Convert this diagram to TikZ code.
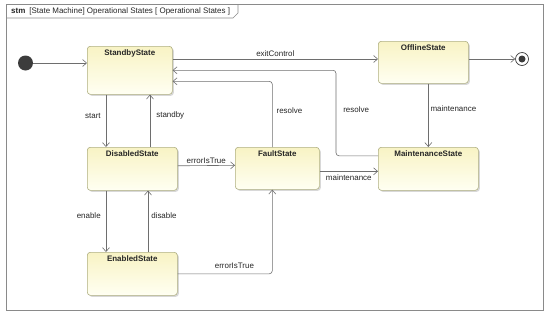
\documentclass[tikz,border=0pt]{standalone}
\usepackage{fontspec}
\setmainfont{Liberation Sans}
\usetikzlibrary{arrows.meta, positioning, calc, shadows}
\definecolor{statetop}{HTML}{F8F3C4}
\definecolor{statebot}{HTML}{FFFFF2}
\definecolor{stateline}{HTML}{AFAF82}
\definecolor{wire}{HTML}{6E6E6E}
\definecolor{framegray}{HTML}{8A8A8A}
\definecolor{dot}{HTML}{3C3C3C}
\newcommand{\smallfont}{\fontsize{8}{9}\selectfont}

\begin{document}
\begin{tikzpicture}[x=1bp, y=-1bp,
  statebox/.style={rectangle, draw=stateline, line width=0.6bp, rounded corners=3bp,
    top color=statetop, bottom color=statebot, anchor=north west,
    drop shadow={shadow xshift=1.5bp, shadow yshift=-1.5bp, fill=black!30, opacity=0.5},
    label={[statename]north:#1}},
  statename/.style={anchor=north, font=\smallfont\bfseries, text=black!85,
    inner sep=2bp, yshift=-1.5bp},
  initstate/.style={circle, fill=dot, minimum size=15bp, inner sep=0pt},
  finalstate/.style={circle, draw=dot, fill=white, line width=0.7bp,
    minimum size=13bp, inner sep=0pt,
    path picture={\fill[dot] (path picture bounding box.center) circle (3.5bp);}},
  trans/.style={draw=wire, line width=0.6bp, rounded corners=3bp,
    -{Straight Barb[length=4bp, width=7bp]}},
  tlabel/.style={font=\smallfont, text=black!85, inner sep=2bp},
]
  \useasboundingbox (0,0) rectangle (550,318);

  % Frame
  \draw[framegray, line width=1bp] (6,4) rectangle (543,310);
  \draw[framegray, line width=0.6bp] (6,18) -- (233,18) -- (238,13) -- (238,4);
  \node[tlabel, anchor=west] (title) at (9,11)
    {\textbf{stm}\enspace[State Machine] Operational States [ Operational States ]};

  % Pseudo states
  \node[initstate] (init) at (25.5,63) {};
  \node[finalstate] (final) at (522,59) {};

  % States
  \node[statebox=StandbyState, minimum width=85bp, minimum height=48bp] (standby) at (87,46) {};
  \node[statebox=DisabledState, minimum width=90bp, minimum height=43bp] (disabled) at (87,147) {};
  \node[statebox=EnabledState, minimum width=90bp, minimum height=43bp] (enabled) at (87,252) {};
  \node[statebox=FaultState, minimum width=84bp, minimum height=42bp] (fault) at (235,147) {};
  \node[statebox=OfflineState, minimum width=90bp, minimum height=42bp] (offline) at (378,41) {};
  \node[statebox=MaintenanceState, minimum width=100bp, minimum height=43bp] (maint) at (378,147) {};

  % Transitions
  \draw[trans] (init) -- (standby.west |- init);
  \draw[trans] (standby.east |- final) -- node[tlabel, above] (lexit) {exitControl} (offline.west |- final);
  \draw[trans] (offline.east |- final) -- (final);

  \draw[trans] ([xshift=19bp]standby.south west) -- node[tlabel, left=3bp, pos=0.4] (lstart) {start}
    ([xshift=19bp]disabled.north west);
  \draw[trans] ([xshift=63bp]disabled.north west) -- node[tlabel, right=4bp, pos=0.6] (lstandby) {standby}
    ([xshift=63bp]standby.south west);

  \draw[trans] ([xshift=19bp]disabled.south west) -- node[tlabel, left=3bp, pos=0.4] (lenable) {enable}
    ([xshift=19bp]enabled.north west);
  \draw[trans] ([xshift=61bp]enabled.north west) -- node[tlabel, right=1bp, pos=0.6] (ldisable) {disable}
    ([xshift=61bp]disabled.south west);

  \draw[trans] ([yshift=3bp]disabled.east) -- node[tlabel, above] (lerr1) {errorIsTrue}
    ([yshift=3bp]fault.west);
  \draw[trans] (enabled.east) -| node[tlabel, above=3bp, pos=0.3] (lerr2) {errorIsTrue}
    ([xshift=-5bp]fault.south);

  \draw[trans] ([xshift=-5bp]fault.north) |- node[tlabel, right=2bp, pos=0.28] (lres1) {resolve}
    ([yshift=-11bp]standby.east);
  \draw[trans] ([yshift=13bp]maint.west) -- ++(-42,0) |- node[tlabel, right=5bp, pos=0.27] (lres2) {resolve}
    (standby.east);

  \draw[trans] ([yshift=-3bp]fault.east) -- node[tlabel, below=1bp] (lmaint1) {maintenance}
    ([yshift=-3bp]fault.east -| maint.west);
  \draw[trans] (maint.north |- offline.south) -- node[tlabel, right=0bp, pos=0.4] (lmaint2) {maintenance}
    (maint.north);
\end{tikzpicture}
\end{document}
